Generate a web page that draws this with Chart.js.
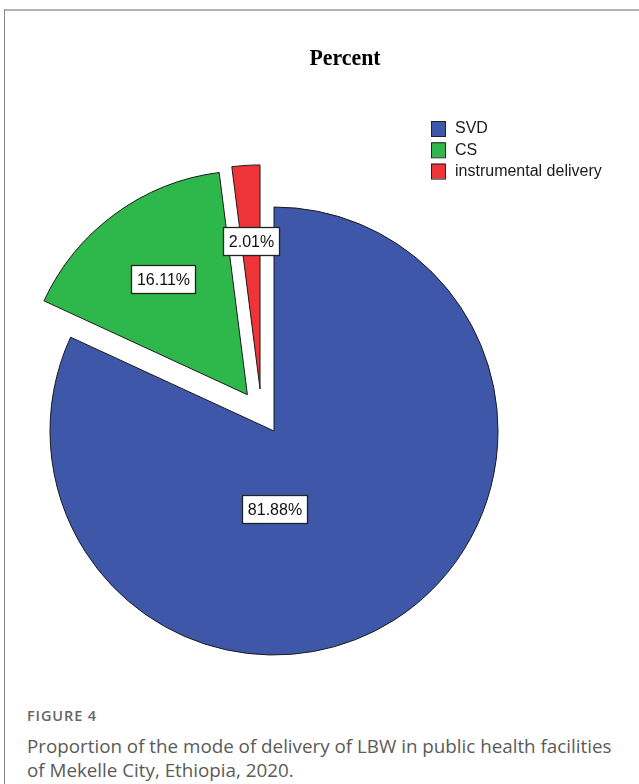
<!DOCTYPE html>
<html>
<head>
<meta charset="utf-8">
<script src="https://cdn.jsdelivr.net/npm/chart.js@4.4.1/dist/chart.umd.min.js"></script>
<style>
  html, body { margin: 0; padding: 0; background: #fff; }
  body { width: 639px; height: 784px; position: relative; overflow: hidden; }
  #frameTop { position: absolute; left: 4px; top: 9px; width: 640px; height: 2px; background: #b3b3b3; }
  #frameLeft { position: absolute; left: 4px; top: 9px; width: 1px; height: 790px; background: #8a8a8a; }
  #chartWrap { position: absolute; left: 0; top: 0; width: 639px; height: 700px; }
  #title { position: absolute; left: 245px; width: 200px; top: 45px; text-align: center;
           font-family: "Liberation Serif", "DejaVu Serif", serif; font-weight: bold; font-size: 23px; color: #000;
           transform: scaleX(0.95); }
  #figLabel { position: absolute; left: 27px; top: 706px; font-family: "Open Sans", sans-serif; font-weight: 600;
              font-size: 14.5px; color: #666; letter-spacing: 0.9px; }
  #caption { position: absolute; left: 27px; top: 734px; font-family: "Open Sans", sans-serif; font-weight: 400;
             font-size: 18.8px; line-height: 24px; color: #5a5a5a; width: 612px; white-space: nowrap; }
</style>
</head>
<body>
<div id="frameTop"></div>
<div id="frameLeft"></div>
<div id="chartWrap"><canvas id="c" width="639" height="700"></canvas></div>
<div id="title">Percent</div>
<div id="figLabel">FIGURE 4</div>
<div id="caption">Proportion of the mode of delivery of LBW in public health facilities<br>of Mekelle City, Ethiopia, 2020.</div>
<script>
// ---- data ----
const categories = ['SVD', 'CS', 'instrumental delivery'];
const percents = [81.88, 16.11, 2.01];
const sliceColors = ['#3e57a8', '#2eb84b', '#ee3339'];
const valueLabels = percents.map(v => v.toFixed(2) + '%');

// ---- style settings (not data) ----
const explode = [null, { dist: 45 }, { dist: 44.3, angleDeg: 341.6 }];
const labelPlace = [{ angleDeg: 180, frac: 0.346 }, { frac: 0.64 }, { frac: 0.66 }];

function dirFrom(arc, angleDeg) {
  let a;
  if (angleDeg === undefined) a = (arc.startAngle + arc.endAngle) / 2;
  else a = (angleDeg - 90) * Math.PI / 180;
  return { x: Math.cos(a), y: Math.sin(a) };
}

const explodePlugin = {
  id: 'explodeDraw',
  beforeDatasetDraw(chart, args) {
    const ctx = chart.ctx;
    args.meta.data.forEach((arc, i) => {
      ctx.save();
      const e = explode[i];
      if (e) {
        const d = dirFrom(arc, e.angleDeg);
        ctx.translate(d.x * e.dist, d.y * e.dist);
      }
      arc.draw(ctx, chart.chartArea);
      ctx.restore();
    });
    return false;
  },
  afterDatasetsDraw(chart) {
    const ctx = chart.ctx;
    const meta = chart.getDatasetMeta(0);
    ctx.save();
    ctx.font = '16px "Liberation Sans", Arial, sans-serif';
    ctx.textAlign = 'center';
    ctx.textBaseline = 'middle';
    meta.data.forEach((arc, i) => {
      const e = explode[i];
      let ax = arc.x, ay = arc.y;
      if (e) { const d = dirFrom(arc, e.angleDeg); ax += d.x * e.dist; ay += d.y * e.dist; }
      const p = labelPlace[i];
      const d2 = dirFrom(arc, p.angleDeg);
      const r = arc.outerRadius * p.frac;
      const lx = ax + d2.x * r, ly = ay + d2.y * r;
      const txt = valueLabels[i];
      const w = Math.round(ctx.measureText(txt).width + 11);
      const h = 28;
      const bx = Math.round(lx - w / 2) + 0.5, by = Math.round(ly - h / 2) + 0.5;
      ctx.fillStyle = '#ffffff';
      ctx.fillRect(bx, by, w, h);
      ctx.strokeStyle = '#222';
      ctx.lineWidth = 1.3;
      ctx.strokeRect(bx, by, w, h);
      ctx.fillStyle = '#111';
      ctx.fillText(txt, bx + w / 2, by + h / 2 + 1);
    });
    ctx.restore();
  },
  afterDraw(chart) {
    const ctx = chart.ctx;
    ctx.save();
    ctx.font = '16px "Liberation Sans", Arial, sans-serif';
    ctx.textBaseline = 'middle';
    ctx.textAlign = 'left';
    categories.forEach((name, i) => {
      const x = 431, y = 121 + i * 21.3;
      ctx.fillStyle = sliceColors[i];
      ctx.fillRect(x, y, 14, 15);
      ctx.strokeStyle = '#222';
      ctx.lineWidth = 1;
      ctx.strokeRect(x + 0.5, y + 0.5, 14, 15);
      ctx.fillStyle = '#1a1a1a';
      ctx.fillText(name, 455, y + 8);
    });
    ctx.restore();
  }
};

new Chart(document.getElementById('c'), {
  type: 'pie',
  data: {
    labels: categories,
    datasets: [{
      data: percents,
      backgroundColor: sliceColors,
      borderColor: '#1a1a1a',
      borderWidth: 1
    }]
  },
  options: {
    responsive: false,
    animation: false,
    devicePixelRatio: 1,
    radius: 224,
    layout: { padding: { left: 0, right: 91, top: 200, bottom: 38 } },
    plugins: {
      legend: { display: false },
      tooltip: { enabled: false },
      title: { display: false }
    }
  },
  plugins: [explodePlugin]
});
</script>
</body>
</html>
